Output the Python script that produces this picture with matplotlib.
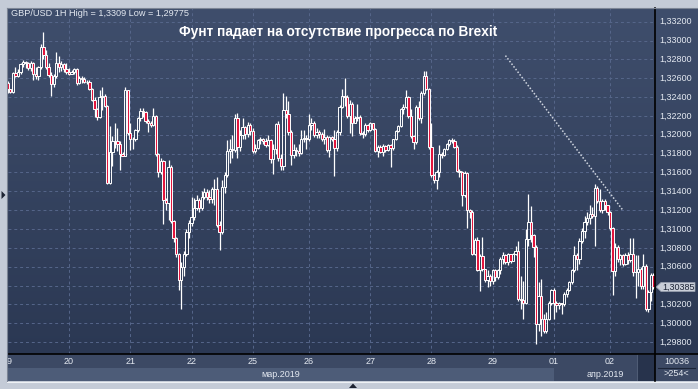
import numpy as np
import matplotlib
matplotlib.use('Agg')
import matplotlib.pyplot as plt
from matplotlib.patches import Rectangle, Polygon
from matplotlib.lines import Line2D
from matplotlib.colors import LinearSegmentedColormap

plt.rcParams['font.family'] = ['Liberation Sans', 'DejaVu Sans']

# GBP/USD hourly candles, open = previous close
first_open = 1.3255
close = [1.3249, 1.3245, 1.3266, 1.3262, 1.3267, 1.3275, 1.3277, 1.3276, 1.3271, 1.3276,
         1.3265, 1.3262, 1.3272, 1.3293, 1.3285, 1.3272, 1.3263, 1.3254, 1.3262, 1.3276,
         1.3272, 1.3275, 1.3270, 1.3267, 1.3265, 1.3267, 1.3270, 1.3255, 1.3260, 1.3259,
         1.3256, 1.3256, 1.3249, 1.3237, 1.3227, 1.3219, 1.3240, 1.3241, 1.3231, 1.3149,
         1.3182, 1.3193, 1.3193, 1.3190, 1.3180, 1.3178, 1.3247, 1.3202, 1.3195, 1.3195,
         1.3205, 1.3218, 1.3225, 1.3224, 1.3215, 1.3213, 1.3210, 1.3220, 1.3180, 1.3161,
         1.3172, 1.3131, 1.3128, 1.3166, 1.3109, 1.3090, 1.3073, 1.3046, 1.3060, 1.3074,
         1.3097, 1.3106, 1.3113, 1.3122, 1.3131, 1.3122, 1.3134, 1.3139, 1.3134, 1.3132,
         1.3142, 1.3142, 1.3104, 1.3097, 1.3145, 1.3157, 1.3183, 1.3185, 1.3184, 1.3218,
         1.3187, 1.3200, 1.3208, 1.3201, 1.3210, 1.3204, 1.3183, 1.3186, 1.3194, 1.3195,
         1.3193, 1.3189, 1.3194, 1.3174, 1.3185, 1.3211, 1.3175, 1.3167, 1.3226, 1.3222,
         1.3203, 1.3179, 1.3184, 1.3183, 1.3181, 1.3195, 1.3197, 1.3196, 1.3210, 1.3212,
         1.3200, 1.3203, 1.3201, 1.3195, 1.3198, 1.3184, 1.3198, 1.3195, 1.3186, 1.3203,
         1.3229, 1.3241, 1.3240, 1.3220, 1.3233, 1.3213, 1.3218, 1.3219, 1.3202, 1.3201,
         1.3210, 1.3205, 1.3212, 1.3206, 1.3183, 1.3187, 1.3182, 1.3188, 1.3184, 1.3189,
         1.3186, 1.3195, 1.3204, 1.3209, 1.3227, 1.3229, 1.3240, 1.3220, 1.3199, 1.3192,
         1.3229, 1.3218, 1.3244, 1.3262, 1.3249, 1.3187, 1.3157, 1.3152, 1.3161, 1.3180,
         1.3179, 1.3185, 1.3190, 1.3194, 1.3193, 1.3187, 1.3162, 1.3161, 1.3136, 1.3159,
         1.3120, 1.3118, 1.3074, 1.3088, 1.3057, 1.3071, 1.3058, 1.3046, 1.3050, 1.3045,
         1.3057, 1.3049, 1.3056, 1.3068, 1.3072, 1.3065, 1.3073, 1.3066, 1.3074, 1.3077,
         1.3026, 1.3025, 1.3022, 1.3089, 1.3107, 1.3094, 1.3081, 1.2999, 1.3029, 1.3005,
         1.2992, 1.3005, 1.3022, 1.3035, 1.3021, 1.3019, 1.3021, 1.3020, 1.3031, 1.3035,
         1.3044, 1.3056, 1.3072, 1.3068, 1.3087, 1.3098, 1.3107, 1.3112, 1.3116, 1.3114,
         1.3143, 1.3130, 1.3120, 1.3130, 1.3125, 1.3118, 1.3101, 1.3055, 1.3081, 1.3068,
         1.3072, 1.3063, 1.3072, 1.3067, 1.3074, 1.3054, 1.3054, 1.3058, 1.3040, 1.3061,
         1.3015, 1.3033, 1.3051, 1.30385]
high = [1.3257, 1.3249, 1.3267, 1.3272, 1.3270, 1.3276, 1.3279, 1.3278, 1.3277, 1.3278,
        1.3277, 1.3272, 1.3273, 1.3296, 1.3309, 1.3290, 1.3276, 1.3267, 1.3265, 1.3288,
        1.3284, 1.3278, 1.3276, 1.3276, 1.3271, 1.3269, 1.3271, 1.3271, 1.3262, 1.3262,
        1.3261, 1.3258, 1.3258, 1.3250, 1.3240, 1.3228, 1.3247, 1.3251, 1.3243, 1.3232,
        1.3209, 1.3199, 1.3212, 1.3207, 1.3193, 1.3182, 1.3251, 1.3248, 1.3212, 1.3198,
        1.3206, 1.3219, 1.3228, 1.3228, 1.3225, 1.3217, 1.3215, 1.3228, 1.3221, 1.3181,
        1.3175, 1.3173, 1.3133, 1.3173, 1.3168, 1.3110, 1.3092, 1.3075, 1.3065, 1.3077,
        1.3100, 1.3110, 1.3134, 1.3133, 1.3136, 1.3133, 1.3140, 1.3144, 1.3142, 1.3141,
        1.3145, 1.3153, 1.3155, 1.3108, 1.3152, 1.3160, 1.3194, 1.3195, 1.3200, 1.3222,
        1.3223, 1.3205, 1.3218, 1.3209, 1.3214, 1.3213, 1.3207, 1.3190, 1.3196, 1.3198,
        1.3197, 1.3197, 1.3200, 1.3195, 1.3190, 1.3213, 1.3215, 1.3180, 1.3244, 1.3241,
        1.3236, 1.3205, 1.3190, 1.3187, 1.3190, 1.3205, 1.3205, 1.3200, 1.3222, 1.3218,
        1.3215, 1.3207, 1.3205, 1.3203, 1.3206, 1.3200, 1.3199, 1.3199, 1.3205, 1.3205,
        1.3232, 1.3249, 1.3260, 1.3242, 1.3237, 1.3235, 1.3220, 1.3233, 1.3221, 1.3204,
        1.3212, 1.3211, 1.3214, 1.3213, 1.3207, 1.3189, 1.3189, 1.3190, 1.3189, 1.3190,
        1.3190, 1.3196, 1.3205, 1.3210, 1.3228, 1.3233, 1.3247, 1.3241, 1.3227, 1.3200,
        1.3232, 1.3236, 1.3246, 1.3268, 1.3268, 1.3250, 1.3213, 1.3158, 1.3163, 1.3189,
        1.3182, 1.3186, 1.3191, 1.3195, 1.3197, 1.3195, 1.3189, 1.3164, 1.3162, 1.3162,
        1.3160, 1.3121, 1.3120, 1.3090, 1.3092, 1.3073, 1.3092, 1.3058, 1.3057, 1.3052,
        1.3058, 1.3058, 1.3058, 1.3070, 1.3076, 1.3074, 1.3075, 1.3074, 1.3075, 1.3082,
        1.3087, 1.3050, 1.3045, 1.3100, 1.3137, 1.3124, 1.3095, 1.3083, 1.3044, 1.3047,
        1.3010, 1.3012, 1.3024, 1.3036, 1.3037, 1.3024, 1.3023, 1.3022, 1.3033, 1.3037,
        1.3045, 1.3058, 1.3082, 1.3075, 1.3090, 1.3101, 1.3114, 1.3118, 1.3125, 1.3123,
        1.3148, 1.3146, 1.3142, 1.3132, 1.3132, 1.3126, 1.3119, 1.3102, 1.3085, 1.3083,
        1.3073, 1.3074, 1.3075, 1.3076, 1.3091, 1.3090, 1.3072, 1.3072, 1.3060, 1.3074,
        1.3063, 1.3035, 1.3053, 1.3053]
low = [1.3244, 1.3244, 1.3244, 1.3261, 1.3261, 1.3265, 1.3272, 1.3271, 1.3269, 1.3268,
       1.3258, 1.3259, 1.3258, 1.3270, 1.3280, 1.3270, 1.3261, 1.3241, 1.3251, 1.3260,
       1.3267, 1.3268, 1.3267, 1.3265, 1.3263, 1.3264, 1.3265, 1.3253, 1.3254, 1.3255,
       1.3255, 1.3254, 1.3248, 1.3236, 1.3219, 1.3216, 1.3218, 1.3226, 1.3229, 1.3148,
       1.3148, 1.3167, 1.3186, 1.3183, 1.3163, 1.3177, 1.3177, 1.3200, 1.3184, 1.3185,
       1.3193, 1.3203, 1.3215, 1.3219, 1.3213, 1.3203, 1.3208, 1.3209, 1.3178, 1.3155,
       1.3158, 1.3105, 1.3120, 1.3110, 1.3106, 1.3086, 1.3070, 1.3035, 1.3015, 1.3050,
       1.3071, 1.3090, 1.3103, 1.3110, 1.3120, 1.3118, 1.3120, 1.3132, 1.3131, 1.3128,
       1.3128, 1.3125, 1.3102, 1.3078, 1.3095, 1.3138, 1.3155, 1.3170, 1.3175, 1.3182,
       1.3175, 1.3183, 1.3195, 1.3195, 1.3198, 1.3200, 1.3181, 1.3181, 1.3185, 1.3190,
       1.3190, 1.3187, 1.3188, 1.3170, 1.3158, 1.3180, 1.3172, 1.3163, 1.3163, 1.3218,
       1.3200, 1.3168, 1.3175, 1.3177, 1.3178, 1.3180, 1.3192, 1.3185, 1.3193, 1.3205,
       1.3198, 1.3197, 1.3197, 1.3193, 1.3190, 1.3182, 1.3176, 1.3193, 1.3156, 1.3183,
       1.3200, 1.3228, 1.3231, 1.3218, 1.3202, 1.3199, 1.3212, 1.3215, 1.3200, 1.3197,
       1.3199, 1.3203, 1.3204, 1.3205, 1.3182, 1.3176, 1.3181, 1.3178, 1.3182, 1.3183,
       1.3166, 1.3184, 1.3194, 1.3203, 1.3208, 1.3222, 1.3228, 1.3218, 1.3197, 1.3185,
       1.3190, 1.3216, 1.3213, 1.3242, 1.3247, 1.3185, 1.3155, 1.3149, 1.3142, 1.3155,
       1.3175, 1.3177, 1.3184, 1.3188, 1.3191, 1.3186, 1.3160, 1.3155, 1.3124, 1.3134,
       1.3101, 1.3112, 1.3072, 1.3072, 1.3055, 1.3034, 1.3055, 1.3044, 1.3039, 1.3040,
       1.3042, 1.3045, 1.3047, 1.3052, 1.3063, 1.3063, 1.3062, 1.3064, 1.3066, 1.3072,
       1.3024, 1.3015, 1.3005, 1.3020, 1.3082, 1.3086, 1.3070, 1.2978, 1.2992, 1.2987,
       1.2990, 1.2990, 1.3003, 1.3019, 1.3005, 1.3012, 1.3015, 1.3010, 1.3018, 1.3028,
       1.3034, 1.3042, 1.3054, 1.3056, 1.3063, 1.3085, 1.3090, 1.3104, 1.3105, 1.3112,
       1.3082, 1.3128, 1.3118, 1.3117, 1.3120, 1.3115, 1.3099, 1.3030, 1.3050, 1.3065,
       1.3062, 1.3061, 1.3062, 1.3063, 1.3065, 1.3050, 1.3027, 1.3040, 1.3036, 1.3036,
       1.3013, 1.3012, 1.3024, 1.3036]

day_idx = [0, 24, 48, 72, 96, 118, 142, 166, 190, 214, 236]
day_labels = ['19', '20', '21', '22', '25', '26', '27', '28', '29', '01', '02']
month_idx = [107, 234]
month_labels = ['мар.2019', 'апр.2019']
price_ticks = [1.298, 1.300, 1.302, 1.304, 1.306, 1.308, 1.310, 1.312, 1.314, 1.316,
               1.318, 1.320, 1.322, 1.324, 1.326, 1.328, 1.330, 1.332]
trend_x = [195, 241]
trend_y = [1.3284, 1.3120]
header = 'GBP/USD 1H High = 1,3309 Low = 1,29775'
title = 'Фунт падает на отсутствие прогресса по Brexit'
last_label = '1,30385'
bars_label = '10036'
count_label = '>254<'

W, H = 698, 389
BG_TOP, BG_BOT = '#3f4e6c', '#2b3853'
RED = '#e2153d'
GRID = '#56668a'
TXT = '#e4e9f1'
XLIM = (0.1, 253.6)
YLIM = (1.29674, 1.33345)


def fr(x0, y0, x1, y1):
    return [x0 / W, 1 - y1 / H, (x1 - x0) / W, (y1 - y0) / H]


grad = LinearSegmentedColormap.from_list('bg', [BG_TOP, BG_BOT])


def paint_bg(a):
    a.imshow(np.linspace(0, 1, 256).reshape(-1, 1), cmap=grad, extent=[0, 1, 0, 1],
             transform=a.transAxes, aspect='auto', zorder=0)


fig = plt.figure(figsize=(W / 100, H / 100), dpi=100)
fig.patch.set_facecolor('#c4cbd7')

# main chart
ax = fig.add_axes(fr(8, 8, 655, 354))
paint_bg(ax)
o = np.array([first_open] + close[:-1])
c = np.array(close)
hi = np.maximum(np.array(high), np.maximum(o, c))
lo = np.minimum(np.array(low), np.minimum(o, c))
x = np.arange(len(c))
top = np.maximum(o, c)
bot = np.minimum(o, c)
ax.vlines(x, top, hi, color='white', lw=0.9, zorder=3)
ax.vlines(x, lo, bot, color='white', lw=0.9, zorder=3)
up = c >= o
ax.bar(x[up], (top - bot)[up], bottom=bot[up], width=0.9, facecolor='none',
       edgecolor='white', lw=0.7, zorder=4)
ax.bar(x[~up], (top - bot)[~up], bottom=bot[~up], width=0.9, facecolor=RED,
       edgecolor='white', lw=0.7, zorder=4)

ax.plot(trend_x, trend_y, color='#d0d6e0', lw=1.1, ls=(0, (1, 1.2)), zorder=5)

ax.set_xticks(day_idx)
ax.set_yticks(price_ticks)
ax.grid(True, color=GRID, lw=0.7, ls=(0, (3, 3)), zorder=1)
ax.set_axisbelow(True)
ax.tick_params(length=0, labelbottom=False, labelleft=False)
for s in ax.spines.values():
    s.set_visible(False)
ax.set_xlim(*XLIM)
ax.set_ylim(*YLIM)

ax.text(0.005, 0.983, header, transform=ax.transAxes, fontsize=6.6, color=TXT,
        ha='left', va='center', zorder=6)
ax.text(0.51, 0.931, title, transform=ax.transAxes, fontsize=9.8, color='white',
        fontweight='bold', ha='center', va='center', zorder=6)

# price scale
axr = fig.add_axes(fr(655, 8, 698, 354))
paint_bg(axr)
axr.set_xlim(0, 1)
axr.set_ylim(*YLIM)
axr.axis('off')
lp = close[-1]
h = 0.00048
for p in price_ticks:
    if abs(p - lp) < 0.0012:
        continue  # hidden under the last-price box
    axr.text(0.09, p, f'{p:.5f}'.replace('.', ','), fontsize=6.5, color=TXT,
             ha='left', va='center')
axr.add_patch(Polygon([(0.03, lp), (0.14, lp + h), (0.93, lp + h), (0.93, lp - h), (0.14, lp - h)],
                      closed=True, facecolor='#c9ced8', edgecolor='#9aa2b0', lw=0.5, zorder=3))
axr.text(0.54, lp, last_label, fontsize=6.5, color='#1b2335', ha='center', va='center', zorder=4)

# date scale
axb = fig.add_axes(fr(8, 354, 655, 381))
axb.set_xlim(*XLIM)
axb.set_ylim(0, 1)
axb.axis('off')
axb.add_patch(Rectangle((0, 0), 1, 1, transform=axb.transAxes, facecolor='#3c4964', zorder=0))
axb.add_patch(Rectangle((XLIM[0], 0), day_idx[9] - XLIM[0], 0.5, facecolor='#4d5c78', zorder=1))
axb.add_patch(Rectangle((0.972, 0), 0.028, 1, transform=axb.transAxes, facecolor='#27334c',
                        edgecolor='#56637c', lw=0.6, zorder=2))
for d, lab in zip(day_idx, day_labels):
    t = axb.text(d, 0.74, lab, fontsize=6.5, color=TXT, ha='center', va='center', zorder=3)
    t.set_clip_on(True)
for m, lab in zip(month_idx, month_labels):
    axb.text(m, 0.25, lab, fontsize=6.5, color=TXT, ha='center', va='center', zorder=3)

# corner box
axc = fig.add_axes(fr(655, 354, 698, 381))
axc.set_xlim(0, 1)
axc.set_ylim(0, 1)
axc.axis('off')
axc.add_patch(Rectangle((0, 0), 1, 1, facecolor='#3c4964', zorder=0))
axc.plot([0.07, 0.93], [0.5, 0.5], color='#1c2538', lw=0.8)
axc.text(0.5, 0.74, bars_label, fontsize=6.5, color=TXT, ha='center', va='center')
axc.text(0.5, 0.27, count_label, fontsize=6.5, color=TXT, ha='center', va='center')

# separators and frame
fig.add_artist(Line2D([8 / W, 1], [1 - 354 / H] * 2, color='black', lw=1.2))
fig.add_artist(Line2D([655 / W] * 2, [1 - 381 / H, 1 - 8 / H], color='black', lw=1.2))
fig.add_artist(Line2D([7.5 / W] * 2, [1 - 382 / H, 1 - 7.5 / H], color='#7c8595', lw=0.8))
fig.add_artist(Line2D([7.5 / W, 1], [1 - 7.5 / H] * 2, color='#7c8595', lw=0.8))
fig.add_artist(Line2D([7.5 / W, 1], [1 - 382 / H] * 2, color='#eef1f5', lw=0.8))
fig.add_artist(Polygon([(1.5 / W, 1 - 191 / H), (1.5 / W, 1 - 199 / H), (5.5 / W, 1 - 195 / H)],
                       closed=True, facecolor='#1d2433', edgecolor='none'))
fig.add_artist(Polygon([(349 / W, 1 - 388 / H), (357 / W, 1 - 388 / H), (353 / W, 1 - 383.5 / H)],
                       closed=True, facecolor='#1d2433', edgecolor='none'))

fig.savefig('out.png', dpi=100, facecolor=fig.get_facecolor())
